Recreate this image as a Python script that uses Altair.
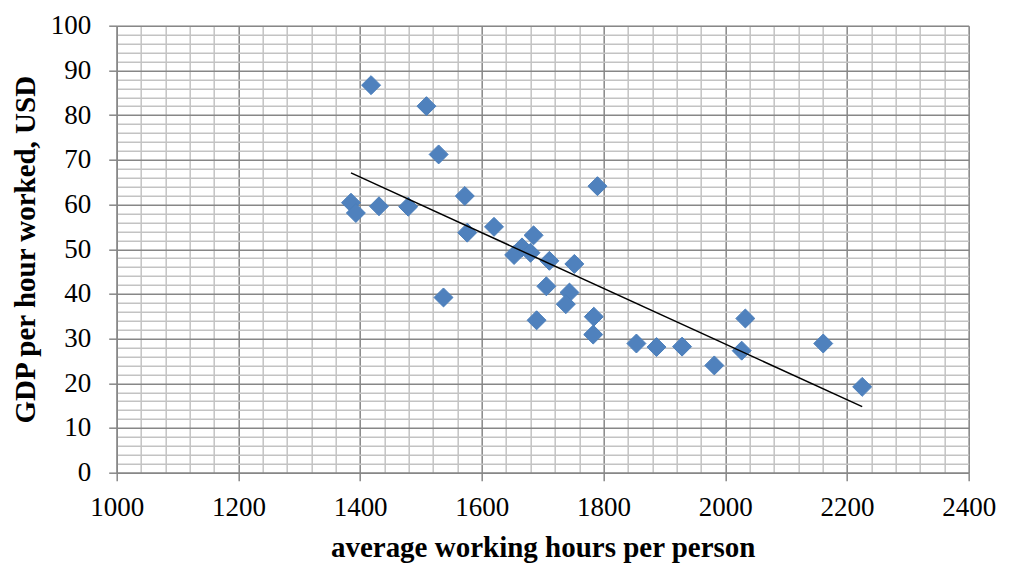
import altair as alt
import pandas as pd

hours = [1418, 1509, 1529, 1385, 1393, 1431, 1479, 1572, 1576, 1620, 1537, 1685,
         1666, 1653, 1680, 1711, 1752, 1790, 1706, 1744, 1738, 1690, 1784, 1783,
         1854, 1887, 1929, 1982, 2033, 2027, 2161, 2225]
gdp = [86.7, 82.0, 71.2, 60.4, 58.1, 59.6, 59.5, 61.9, 53.7, 55.0, 39.2, 53.1,
       50.4, 48.7, 49.2, 47.4, 46.7, 64.1, 41.7, 40.3, 37.7, 34.1, 34.9, 30.9,
       28.9, 28.1, 28.2, 24.0, 34.5, 27.3, 28.9, 19.2]

x_ticks = list(range(1000, 2401, 40))
y_ticks = list(range(0, 101, 2))

df = pd.DataFrame({"hours": hours, "gdp": gdp})

FONT = "Liberation Serif"
MAJOR = "#878787"
MINOR = "#c3c3c3"

x_axis = alt.Axis(
    values=x_ticks,
    tickCount=1000,
    labelExpr="datum.value % 200 === 0 ? datum.label : ''",
    format="d",
    grid=True,
    gridColor=alt.condition("datum.value % 200 === 0", alt.value(MAJOR), alt.value(MINOR)),
    gridWidth=1.5,
    tickColor=MAJOR,
    tickOpacity=alt.condition("datum.value % 200 === 0", alt.value(1), alt.value(0)),
    tickSize=8,
    tickWidth=1.5,
    domainColor=MAJOR,
    domainWidth=1.5,
    labelFont=FONT,
    labelFontSize=27,
    labelColor="#000000",
    labelPadding=14,
    labelFlush=False,
    labelOverlap=False,
    title="average working hours per person",
    titleFont=FONT,
    titleFontSize=29,
    titleFontWeight="bold",
    titleColor="#000000",
    titleBaseline="alphabetic",
    titleY=84,
)

y_axis = alt.Axis(
    values=y_ticks,
    tickCount=1000,
    format="d",
    labelExpr="datum.value % 10 === 0 ? datum.label : ''",
    grid=True,
    gridColor=alt.condition("datum.value % 10 === 0", alt.value(MAJOR), alt.value(MINOR)),
    gridWidth=1.5,
    tickColor=MAJOR,
    tickOpacity=alt.condition("datum.value % 10 === 0", alt.value(1), alt.value(0)),
    tickSize=8,
    tickWidth=1.5,
    domainColor=MAJOR,
    domainWidth=1.5,
    labelFont=FONT,
    labelFontSize=27,
    labelColor="#000000",
    labelPadding=18,
    labelFlush=False,
    labelOverlap=False,
    title="GDP per hour worked, USD",
    titleFont=FONT,
    titleFontSize=29,
    titleFontWeight="bold",
    titleColor="#000000",
    titleBaseline="alphabetic",
    titleAngle=-90,
    titleX=-82,
    titleY=223.5,
)

base = alt.Chart(df)

points = base.mark_point(
    shape="diamond", filled=True, size=360, color="#4F81BD",
    stroke="#4A7EBB", strokeWidth=1, opacity=1
).encode(
    x=alt.X("hours:Q", scale=alt.Scale(domain=[1000, 2400], nice=False, zero=False), axis=x_axis),
    y=alt.Y("gdp:Q", scale=alt.Scale(domain=[0, 100], nice=False), axis=y_axis),
)

trend = base.transform_regression("hours", "gdp", method="linear").mark_line(
    color="#000000", strokeWidth=1.5
).encode(
    x=alt.X("hours:Q"),
    y=alt.Y("gdp:Q"),
)

chart = alt.layer(points, trend).properties(
    width=852,
    height=447,
    autosize=alt.AutoSizeParams(type="none"),
    padding={"left": 108.7, "top": 17.7, "right": 32, "bottom": 90},
).configure_view(stroke=None).configure(background="#ffffff")

chart.save("out.html", embed_options={"renderer": "svg", "actions": False})
